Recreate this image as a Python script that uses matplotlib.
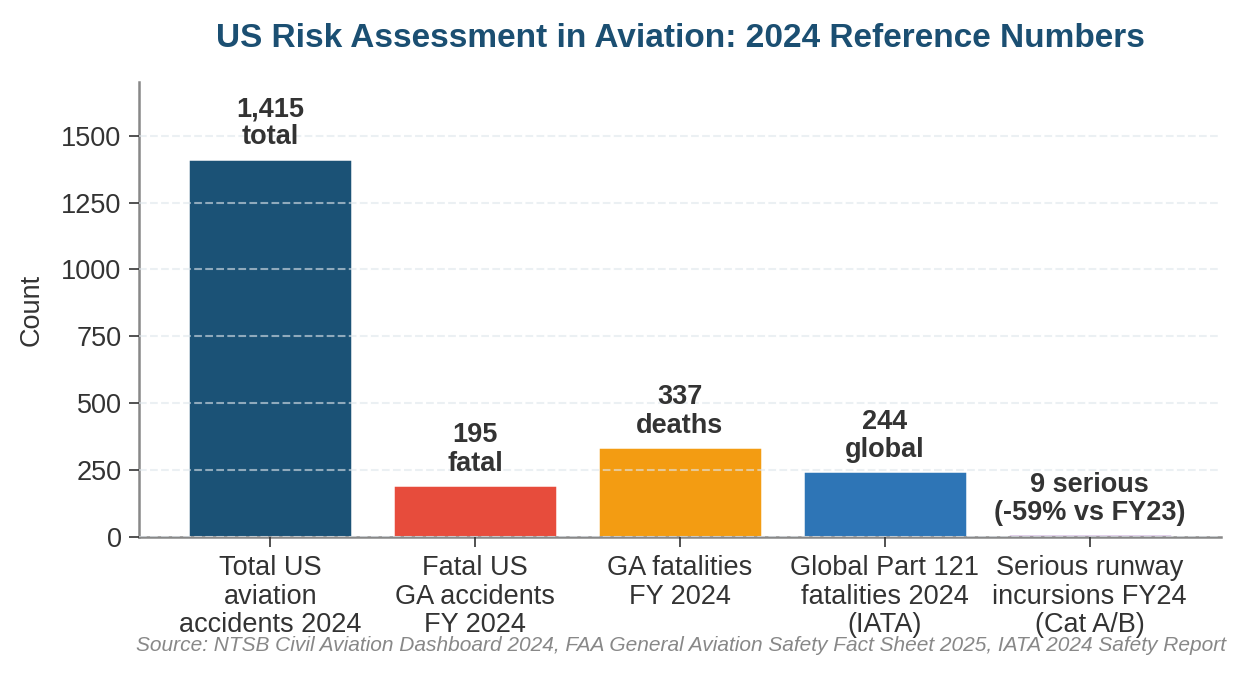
import numpy as np
from matplotlib import pyplot as plt

# data
categories = ['Total US\naviation\naccidents 2024',
              'Fatal US\nGA accidents\nFY 2024',
              'GA fatalities\nFY 2024',
              'Global Part 121\nfatalities 2024\n(IATA)',
              'Serious runway\nincursions FY24\n(Cat A/B)']
values = [1415, 195, 337, 244, 9]
bar_labels = ['1,415\ntotal', '195\nfatal', '337\ndeaths', '244\nglobal',
              '9 serious\n(-59% vs FY23)']
colors = ['#1b5276', '#e74c3c', '#f39c12', '#2e75b6', '#8e44ad']

plt.rcParams['font.family'] = ['Liberation Sans', 'DejaVu Sans']

fig, ax = plt.subplots(figsize=(8.287, 4.5), dpi=150)
fig.subplots_adjust(left=0.112, right=0.982, top=0.878, bottom=0.205)

x = np.arange(len(categories))
ax.bar(x, values, width=0.8, color=colors, edgecolor='white', linewidth=1.2, zorder=2)

for xi, v, lab in zip(x, values, bar_labels):
    ax.text(xi, v + 30, lab, ha='center', va='bottom', fontsize=13,
            fontweight='bold', color='#333333', linespacing=1.12, zorder=4)

ax.set_ylim(0, 1700)
ax.set_yticks([0, 250, 500, 750, 1000, 1250, 1500])
ax.set_xticks(x)
ax.set_xticklabels(categories, fontsize=13, color='#333333', linespacing=1.12)
ax.tick_params(axis='y', labelsize=13, labelcolor='#333333')
ax.tick_params(axis='both', color='#333333', length=5)
ax.tick_params(axis='x', pad=4)
ax.set_ylabel('Count', fontsize=13, color='#333333', labelpad=8)

ax.grid(axis='y', linestyle='--', color='#dfe6ec', alpha=0.6, linewidth=1.0, zorder=3)
ax.set_axisbelow(False)
for s in ['top', 'right']:
    ax.spines[s].set_visible(False)
for s in ['left', 'bottom']:
    ax.spines[s].set_color('#888888')
    ax.spines[s].set_linewidth(1.2)

ax.set_title('US Risk Assessment in Aviation: 2024 Reference Numbers',
             fontsize=16, fontweight='bold', color='#1b4f72', pad=17)

fig.text(0.986, 0.043, 'Source: NTSB Civil Aviation Dashboard 2024, FAA General Aviation '
         'Safety Fact Sheet 2025, IATA 2024 Safety Report',
         ha='right', va='center', fontsize=10, style='italic', color='#888888')

plt.savefig('out.png', dpi=150)
